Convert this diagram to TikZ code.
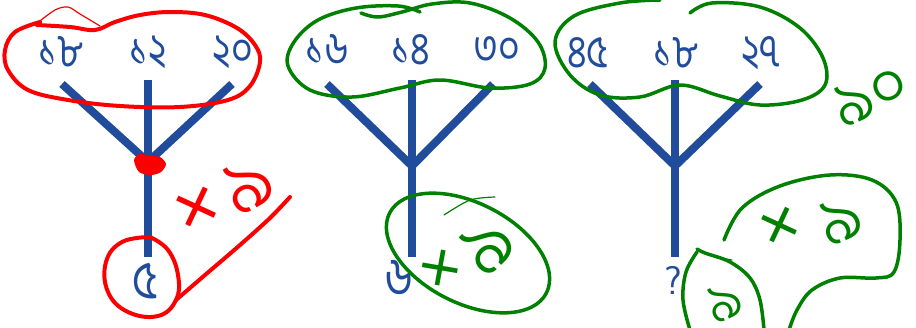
\documentclass[tikz,border=0pt]{standalone}
\usepackage{fontspec}
\newfontfamily\bnfont[Script=Bengali]{Hind Siliguri}
\newfontfamily\bnhand[Script=Bengali]{Hind Siliguri Light}
\definecolor{treeblue}{RGB}{33,76,155}
\definecolor{penred}{RGB}{250,0,0}
\definecolor{pengreen}{RGB}{0,128,0}
\tikzset{
  branch/.style={draw=treeblue, line width=8pt},
  num/.style={font=\bnfont\fontsize{46}{46}\selectfont, text=treeblue, inner sep=0pt, xscale=0.82},
  redpen/.style={draw=penred, line width=4pt, line cap=round, line join=round},
  greenpen/.style={draw=pengreen, line width=3.5pt, line cap=round, line join=round},
  thinpen/.style={line width=1.2pt, line cap=round},
  hand/.style={font=\bnhand\fontsize{#1}{#1}\selectfont, inner sep=0pt},
  hand/.default=70
}
\begin{document}
\begin{tikzpicture}[x=1pt,y=-1pt]
\useasboundingbox (0,0) rectangle (916,327);

% ---- tree 1 ----
\node[num] (a1) at (61,52) {১৮};
\node[num] (a2) at (148,52) {১২};
\node[num] (a3) at (233,52) {২০};
\coordinate (aL) at (62,84);
\coordinate (aM) at (148,80);
\coordinate (aR) at (232,84);
\coordinate (aJ) at (148,162);
\coordinate (aB) at (148,257);
\draw[branch] (aL) -- (aJ) -- (aR);
\draw[branch] (aM) -- (aB);
\node[num, font=\bnfont\fontsize{54}{54}\selectfont] (a0) at (145,281) {৫};

% ---- tree 2 ----
\node[num] (b1) at (327,50) {১৬};
\node[num] (b2) at (411,50) {১৪};
\node[num] (b3) at (497,50) {৩০};
\coordinate (bL) at (327,84);
\coordinate (bM) at (412,80);
\coordinate (bR) at (493,84);
\coordinate (bJ) at (412,166);
\coordinate (bB) at (412,257);
\draw[branch] (bL) -- (bJ) -- (bR);
\draw[branch] (bM) -- (bB);
\node[num, font=\bnfont\fontsize{54}{54}\selectfont] (b0) at (399,278) {৬};

% ---- tree 3 ----
\node[num] (c1) at (588,53) {৪৫};
\node[num] (c2) at (676,53) {১৮};
\node[num] (c3) at (761,53) {২৭};
\coordinate (cL) at (590,84);
\coordinate (cM) at (675,80);
\coordinate (cR) at (760,84);
\coordinate (cJ) at (675,166);
\coordinate (cB) at (675,257);
\draw[branch] (cL) -- (cJ) -- (cR);
\draw[branch] (cM) -- (cB);
\node[text=treeblue, inner sep=0pt, font=\sffamily\fontsize{40}{40}\selectfont] (c0) at (673,280) {?};

% ---- red marks on tree 1 ----
\draw[redpen] plot[smooth, tension=0.6] coordinates {
  (37,25) (70,27) (95,30) (115,22) (140,15) (170,12) (205,15) (237,28)
  (255,45) (260,62) (250,86) (228,100) (180,107) (120,106) (68,100)
  (28,90) (8,70) (5,50) (15,32) (40,22)};
\draw[penred, thinpen] plot[smooth] coordinates {(36,24) (55,10) (68,7) (80,14) (100,26)};
\fill[penred] plot[smooth cycle] coordinates {
  (134,160) (140,154) (150,156) (160,157) (166,164) (161,172) (151,175) (139,172)};
\draw[redpen] plot[smooth, tension=0.7] coordinates {
  (150,237) (122,242) (106,262) (108,292) (128,312) (158,316) (176,300)
  (178,275) (168,250) (150,237)};
\draw[redpen] plot[smooth] coordinates {(176,300) (205,275) (240,245) (270,218) (290,197)};
\node[hand=95, text=penred, rotate=20] (rx) at (200,215) {×};
\node[hand=78, text=penred, rotate=30] (r9) at (247,185) {৯};

% ---- green marks on tree 2 ----
\draw[greenpen] plot[smooth, tension=0.6] coordinates {
  (361,13) (378,17) (402,12) (432,4) (470,3) (510,18) (538,42) (545,68)
  (530,84) (490,88) (440,80) (400,88) (352,97) (310,90) (288,66) (294,42)
  (318,20) (356,8) (398,6) (420,12)};
\draw[greenpen] (468,253) ellipse[x radius=88, y radius=50, rotate=-27];
\draw[pengreen, thinpen] plot[smooth] coordinates {(444,215) (470,200) (495,197)};
\node[hand=82, text=pengreen, rotate=35] (gx1) at (444,274) {×};
\node[hand=78, text=pengreen, rotate=45] (g91) at (486,246) {৯};

% ---- green marks on tree 3 ----
\draw[greenpen] plot[smooth, tension=0.6] coordinates {
  (690,13) (712,3) (760,7) (800,28) (823,58) (825,85) (802,100) (760,105)
  (720,96) (680,85) (640,97) (600,95) (570,75) (555,42) (574,16) (620,3) (660,0)};
\node[hand=64, text=pengreen, rotate=25] (g90) at (870,95) {৯০};
\draw[greenpen] plot[smooth, tension=0.6] coordinates {
  (724,240) (742,208) (780,186) (830,175) (872,180) (896,202) (900,240)
  (894,272) (876,278) (840,278) (812,290) (797,310) (789,330)};
\draw[pengreen, thinpen] plot[smooth] coordinates {(697,250) (712,256) (732,260)};
\draw[greenpen] plot[smooth, tension=0.6] coordinates {
  (697,249) (705,253) (730,262) (750,278) (760,300) (764,330)};
\draw[greenpen] plot[smooth, tension=0.6] coordinates {
  (697,252) (686,272) (683,300) (690,330)};
\node[hand=56, text=pengreen, rotate=25] (g9) at (724,302) {৯};
\node[hand=85, text=pengreen, rotate=20] (gx2) at (782,232) {×};
\node[hand=68, text=pengreen, rotate=25] (g92) at (840,220) {৯};
\end{tikzpicture}
\end{document}
